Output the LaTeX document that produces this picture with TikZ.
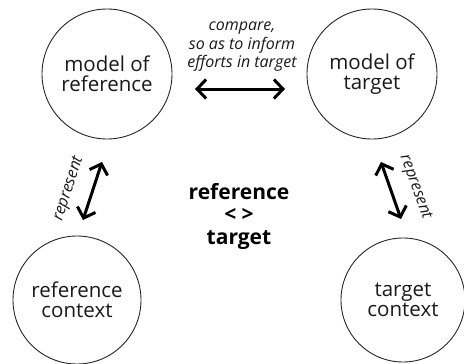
\documentclass[tikz,border=0pt]{standalone}
\usepackage{fontspec}
\setmainfont{Open Sans}
\usetikzlibrary{arrows.meta}
\begin{document}
\begin{tikzpicture}[x=1pt,y=-1pt,
  circ/.style={draw=black!85,line width=0.9pt,circle,minimum size=#1,inner sep=0pt,align=center,font=\fontsize{20.5}{20.5}\selectfont,text=black!90},
  dbl/.style={line width=3pt,{Straight Barb[length=9pt,width=19pt,line width=3pt]}-{Straight Barb[length=9pt,width=19pt,line width=3pt]},line cap=round},
  lbl/.style={font=\itshape\fontsize{16}{18.5}\selectfont,align=center,text=black!90}]
\useasboundingbox (0,0) rectangle (464,364);
\node[circ=130pt] (mr) at (107,74) {model of\\reference};
\node[circ=130pt] (mt) at (372,74) {model of\\target};
\node[circ=128pt] (rc) at (77,300) {reference\\context};
\node[circ=124pt] (tc) at (403,300) {target\\context};
\coordinate (h1) at (195,89);
\coordinate (h2) at (285,89);
\draw[dbl] (h1) -- (h2);
\node[lbl] (cmp) at (242,47) {compare,\\so as to inform\\efforts in target};
\coordinate (l1) at (102,162);
\coordinate (l2) at (83,220);
\draw[dbl] (l1) -- (l2);
\node[lbl,rotate=72,inner sep=1pt] (lr) at (69,189) {represent};
\coordinate (r1) at (381,162);
\coordinate (r2) at (401,219);
\draw[dbl] (r1) -- (r2);
\node[lbl,rotate=-70,inner sep=1pt] (rr) at (415,187) {represent};
\node[font=\bfseries\fontsize{21}{22.5}\selectfont,align=center,text=black] (ctr) at (239,216) {reference\\< >\\target};
\end{tikzpicture}
\end{document}
